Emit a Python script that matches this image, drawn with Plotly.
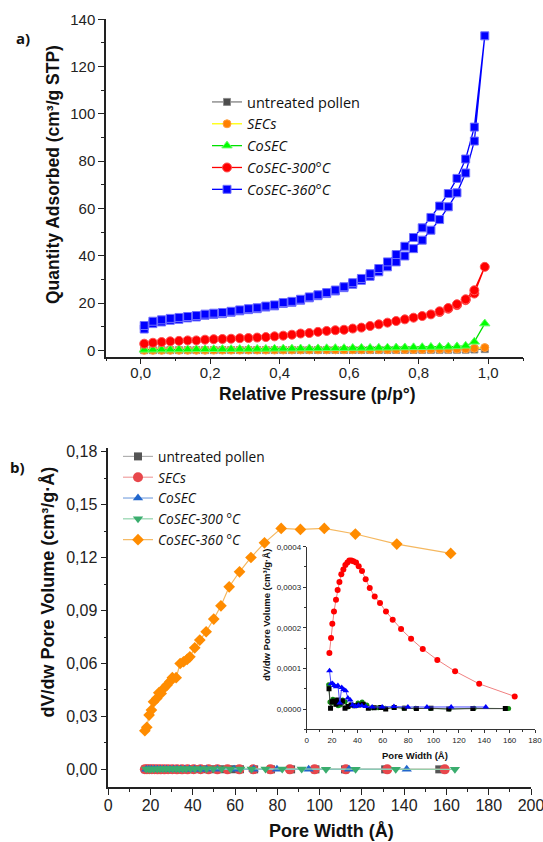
import plotly.graph_objects as go

# ---------------- Panel a) : N2 isotherms ----------------
P_ADS = [0.010, 0.035, 0.060, 0.085, 0.110, 0.135, 0.160, 0.185, 0.210, 0.235,
         0.260, 0.285, 0.310, 0.335, 0.360, 0.385, 0.410, 0.435, 0.460, 0.485,
         0.510, 0.535, 0.560, 0.585, 0.610, 0.635, 0.660, 0.685, 0.710, 0.735,
         0.760, 0.785, 0.810, 0.835, 0.860, 0.885, 0.910, 0.935, 0.960, 0.990]
P_DES = [0.960, 0.935, 0.910, 0.885, 0.860, 0.835, 0.810, 0.785, 0.760, 0.735,
         0.710, 0.685, 0.660, 0.635, 0.610, 0.585, 0.560, 0.535, 0.510, 0.485,
         0.460, 0.435, 0.410, 0.385, 0.360, 0.335, 0.310, 0.285, 0.260, 0.235,
         0.210, 0.185, 0.160, 0.135, 0.110, 0.085, 0.060, 0.035, 0.010]

Q_UNTREATED = [0.05, 0.05, 0.06, 0.06, 0.07, 0.07, 0.08, 0.08, 0.08, 0.09,
               0.09, 0.09, 0.10, 0.10, 0.10, 0.11, 0.11, 0.11, 0.12, 0.12,
               0.12, 0.13, 0.13, 0.13, 0.14, 0.14, 0.15, 0.15, 0.16, 0.16,
               0.17, 0.18, 0.19, 0.20, 0.21, 0.23, 0.25, 0.28, 0.35, 0.50]
Q_SECS = [0.00, 0.02, 0.03, 0.04, 0.05, 0.06, 0.07, 0.08, 0.09, 0.10,
          0.10, 0.11, 0.12, 0.13, 0.13, 0.14, 0.15, 0.16, 0.17, 0.18,
          0.19, 0.20, 0.21, 0.22, 0.23, 0.24, 0.25, 0.27, 0.28, 0.30,
          0.32, 0.34, 0.37, 0.40, 0.43, 0.47, 0.52, 0.60, 0.85, 1.15]
Q_COSEC = [0.20, 0.25, 0.30, 0.30, 0.35, 0.35, 0.40, 0.40, 0.45, 0.50,
           0.50, 0.55, 0.55, 0.60, 0.60, 0.65, 0.70, 0.70, 0.75, 0.80,
           0.80, 0.85, 0.90, 0.90, 0.95, 1.00, 1.00, 1.05, 1.10, 1.15,
           1.20, 1.25, 1.30, 1.40, 1.45, 1.50, 1.65, 1.90, 3.60, 11.3]
Q_300_ADS = [2.8, 3.2, 3.5, 3.8, 4.0, 4.2, 4.2, 4.5, 4.7, 4.8,
             4.9, 5.1, 5.2, 5.4, 5.6, 5.9, 6.2, 6.6, 7.1, 7.3,
             7.8, 8.2, 8.5, 8.7, 9.2, 9.6, 10.3, 11.0, 11.7, 12.4,
             13.1, 13.8, 14.5, 15.2, 16.2, 17.6, 19.1, 21.2, 24.0, 35.3]
P_300_DES = [0.960, 0.935, 0.910, 0.885, 0.860]
Q_300_DES = [25.4, 21.6, 19.5, 17.9, 16.5]
Q_360_ADS = [9.0, 11.3, 12.0, 12.7, 13.1, 13.7, 14.1, 14.8, 15.2, 15.5,
             16.1, 16.7, 17.2, 17.6, 18.3, 18.8, 19.8, 20.3, 21.2, 22.2,
             23.1, 24.0, 25.1, 26.5, 27.9, 29.6, 31.3, 33.2, 35.3, 37.4,
             39.9, 43.0, 46.6, 50.8, 55.3, 60.7, 66.6, 75.0, 88.5, 133.0]
Q_360_DES = [94.4, 80.9, 72.7, 66.3, 61.0, 56.2, 51.8, 47.7, 44.0, 40.5,
             37.4, 34.6, 32.4, 30.4, 28.6, 26.9, 25.5, 24.4, 23.5, 22.6,
             21.6, 20.7, 20.2, 19.2, 18.7, 18.0, 17.6, 17.1, 16.5, 16.0,
             15.7, 15.3, 14.7, 14.3, 13.9, 13.5, 12.9, 12.3, 10.5]

# ---------------- Panel b) : pore size distributions ----------------
W_UN = [17.6, 18.8, 20.1, 21.5, 23.0, 24.6, 26.3, 28.2, 30.2, 32.5, 35.0, 37.8,
        41.0, 44.6, 48.6, 53.2, 58.5, 62.3, 69.0, 77.0, 86.5, 98.0, 112.0, 131.0, 156.6]
V_UN = [0.50e-4, 0.02e-4, 0.18e-4, 0.20e-4, 0.12e-4, 0.22e-4, 0.15e-4, 0.20e-4,
        0.02e-4, 0.06e-4, 0.10e-4, 0.08e-4, 0.10e-4, 0.12e-4, 0.02e-4, 0.03e-4,
        0.04e-4, 0.00, 0.04e-4, 0.02e-4, 0.01e-4, 0.02e-4, 0.00, 0.01e-4, 0.01e-4]
W_SEC = [17.3, 18.3, 19.4, 20.6, 21.9, 23.3, 24.8, 26.5, 28.3, 30.3, 32.5, 34.9, 37.5,
         40.4, 43.7, 47.4, 51.6, 56.4, 62.0, 68.6, 76.7, 85.9, 97.6, 112.4, 132.0, 159.2]
V_SEC = [0.60e-4, 0.17e-4, 0.15e-4, 0.24e-4, 0.22e-4, 0.12e-4, 0.08e-4, 0.10e-4,
         0.22e-4, 0.18e-4, 0.05e-4, 0.10e-4, 0.08e-4, 0.15e-4, 0.17e-4, 0.10e-4,
         0.03e-4, 0.03e-4, 0.02e-4, 0.04e-4, 0.02e-4, 0.02e-4, 0.01e-4, 0.00,
         0.02e-4, 0.01e-4]
W_CO = [18.0, 19.2, 20.4, 21.8, 23.2, 24.6, 26.1, 27.6, 29.2, 30.8, 32.5, 34.3,
        36.2, 38.4, 40.8, 43.5, 46.5, 51.6, 59.5, 68.8, 79.8, 94.8, 113.9, 141.2]
V_CO = [0.94e-4, 0.62e-4, 0.63e-4, 0.58e-4, 0.55e-4, 0.58e-4, 0.15e-4, 0.53e-4,
        0.48e-4, 0.45e-4, 0.27e-4, 0.22e-4, 0.10e-4, 0.06e-4, 0.09e-4, 0.08e-4,
        0.06e-4, 0.05e-4, 0.05e-4, 0.06e-4, 0.05e-4, 0.05e-4, 0.05e-4, 0.05e-4]
W_300 = [17.9, 19.2, 20.2, 21.5, 23.1, 24.4, 25.8, 27.3, 28.9, 30.5, 32.1, 33.6,
         35.2, 36.8, 38.9, 41.0, 43.6, 46.5, 49.7, 53.6, 57.8, 62.5, 67.8, 74.4,
         82.3, 91.5, 103.0, 117.0, 136.0, 164.0]
V_300 = [1.38e-4, 1.75e-4, 2.10e-4, 2.40e-4, 2.69e-4, 2.93e-4, 3.13e-4, 3.32e-4,
         3.44e-4, 3.55e-4, 3.61e-4, 3.66e-4, 3.66e-4, 3.64e-4, 3.61e-4, 3.52e-4,
         3.40e-4, 3.20e-4, 2.98e-4, 2.77e-4, 2.61e-4, 2.40e-4, 2.20e-4, 1.97e-4,
         1.73e-4, 1.48e-4, 1.21e-4, 0.93e-4, 0.62e-4, 0.31e-4]
W_360 = [17.3, 18.2, 19.3, 20.4, 21.4, 22.9, 23.9, 25.0, 26.2, 27.8, 29.1, 30.3,
         32.1, 34.0, 35.6, 37.3, 38.6, 40.9, 43.3, 46.3, 49.9, 53.3, 57.2, 62.1,
         67.5, 73.9, 81.8, 90.9, 102.2, 116.9, 136.5, 162.0]
V_360 = [0.0219, 0.0238, 0.0308, 0.0336, 0.0383, 0.0402, 0.0434, 0.0430, 0.0459,
         0.0478, 0.0497, 0.0520, 0.0520, 0.0600, 0.0610, 0.0623, 0.0638, 0.0689,
         0.0733, 0.0780, 0.0852, 0.0927, 0.1035, 0.1120, 0.1201, 0.1284, 0.1366,
         0.1360, 0.1366, 0.1334, 0.1277, 0.1224]

LEG_FONT = "Open Sans"
TICK_FONT = "Liberation Sans, Arial, sans-serif"

fig = go.Figure()

# ---- panel a traces ----
def iso(name, x, y, color, line_color, symbol, size, edge):
    fig.add_trace(go.Scatter(
        x=x, y=y, name=name, mode="lines+markers", xaxis="x", yaxis="y",
        line=dict(color=line_color, width=1.3),
        marker=dict(symbol=symbol, size=size, color=color, line=dict(color=edge, width=1)),
        legend="legend"))

iso("untreated pollen", P_ADS, Q_UNTREATED, "#4d4d4d", "#808080", "square", 7, "#8c8c8c")
iso("<i>SECs</i>", P_ADS, Q_SECS, "#ff8000", "#ffff00", "circle", 8, "#ffa040")
iso("<i>CoSEC</i>", P_ADS, Q_COSEC, "#00ff00", "#00e000", "triangle-up", 9, "#60ff60")
iso("<i>CoSEC-300°C</i>", P_ADS + P_300_DES, Q_300_ADS + Q_300_DES,
    "#ff0000", "#ff0000", "circle", 9, "#ff5050")
iso("<i>CoSEC-360°C</i>", P_ADS + P_DES, Q_360_ADS + Q_360_DES,
    "#0000ff", "#0000ff", "square", 8, "#7070ff")

# ---- panel b main traces ----
def psd(name, x, y, color, line_color, symbol, size):
    fig.add_trace(go.Scatter(
        x=x, y=y, name=name, mode="lines+markers", xaxis="x2", yaxis="y2",
        line=dict(color=line_color, width=1.2),
        marker=dict(symbol=symbol, size=size, color=color, line=dict(width=0)),
        legend="legend2"))

psd("untreated pollen", W_UN, V_UN, "#555555", "#b0b0b0", "square", 8)
psd("<i>SECs</i>", W_SEC, V_SEC, "#e8474c", "#f0a0a0", "circle", 10)
psd("<i>CoSEC</i>", W_CO, V_CO, "#2166cc", "#7fa6e0", "triangle-up", 9)
psd("<i>CoSEC-300 °C</i>", W_300, V_300, "#3aad6e", "#8fd3ab", "triangle-down", 9)
psd("<i>CoSEC-360 °C</i>", W_360, V_360, "#ff8c00", "#f5b860", "diamond", 9)

# ---- inset traces ----
def ins(x, y, color, line_color, symbol, size):
    fig.add_trace(go.Scatter(
        x=x, y=y, mode="lines+markers", xaxis="x3", yaxis="y3", showlegend=False,
        line=dict(color=line_color, width=1),
        marker=dict(symbol=symbol, size=size, color=color, line=dict(width=0))))

ins(W_SEC, V_SEC, "#138a13", "#5aa55a", "circle", 5)
ins(W_UN, V_UN, "#000000", "#404040", "square", 5)
ins(W_CO, V_CO, "#0000ff", "#4a4aff", "triangle-up", 6)
ins(W_300, V_300, "#ff0000", "#f08080", "circle", 6)

W, H = 543, 842
def px(x): return x / W
def py(y): return 1 - y / H

axis_common = dict(showline=True, linecolor="#222222", linewidth=1.5, ticks="outside",
                   ticklen=6, tickwidth=1.3, tickcolor="#222222", showgrid=False,
                   zeroline=False, mirror=False, automargin=False, ticklabeloverflow="allow")
inset_common = dict(showline=True, linecolor="#333333", linewidth=1, ticks="outside",
                    ticklen=3, tickcolor="#333333", showgrid=False, zeroline=False,
                    automargin=False, tickfont=dict(size=8), ticklabeloverflow="allow")

fig.update_layout(
    width=W, height=H, margin=dict(l=0, r=0, t=0, b=0, autoexpand=False),
    paper_bgcolor="white", plot_bgcolor="rgba(0,0,0,0)",
    separators=",.",
    font=dict(family=TICK_FONT, color="#222222"),
    xaxis=dict(domain=[px(106), px(523)], range=[-0.1, 1.1], dtick=0.2, tick0=0,
               tickformat=".1f", anchor="y", tickfont=dict(size=15), ticklabelstandoff=-4,
               minor=dict(dtick=0.1, ticks="outside", ticklen=3, tickcolor="#222222"),
               **axis_common),
    yaxis=dict(domain=[py(356.7), py(19.3)], range=[-2.7, 140], dtick=20,
               anchor="x", tickfont=dict(size=15),
               minor=dict(dtick=10, ticks="outside", ticklen=3, tickcolor="#222222"),
               **axis_common),
    xaxis2=dict(domain=[px(108.3), px(531)], range=[0, 200], dtick=20,
                anchor="y2", tickfont=dict(size=16), ticklabelstandoff=-3,
                minor=dict(dtick=10, ticks="outside", ticklen=3, tickcolor="#222222"),
                **axis_common),
    yaxis2=dict(domain=[py(787), py(448.3)], range=[-0.01, 0.182], dtick=0.03, tick0=0,
                tickformat=".2f", anchor="x2", tickfont=dict(size=16),
                minor=dict(dtick=0.015, ticks="outside", ticklen=3, tickcolor="#222222"),
                **axis_common),
    xaxis3=dict(domain=[px(306.7), px(535)], range=[0, 180], dtick=20, anchor="y3",
                minor=dict(dtick=10, ticks="outside", ticklen=2, tickcolor="#333333"),
                **inset_common),
    yaxis3=dict(domain=[py(729.3), py(546.7)], range=[-0.00005, 0.0004], dtick=0.0001,
                tick0=0, tickformat=".4f", anchor="x3",
                minor=dict(dtick=0.00005, ticks="outside", ticklen=2, tickcolor="#333333"),
                **inset_common),
    legend=dict(x=px(207), y=py(86), xanchor="left", yanchor="top",
                bgcolor="rgba(0,0,0,0)", font=dict(family=LEG_FONT, size=14.5, color="#111111"),
                itemclick=False, tracegroupgap=0),
    legend2=dict(x=px(118), y=py(441), xanchor="left", yanchor="top",
                 bgcolor="rgba(0,0,0,0)", font=dict(family=LEG_FONT, size=13.7, color="#111111"),
                 itemclick=False, tracegroupgap=0),
    showlegend=True,
)

bold = "Liberation Sans, Arial, sans-serif"
ann = [
    dict(text="<b>a)</b>", x=px(23), y=py(38), font=dict(size=15, family="Open Sans")),
    dict(text="<b>b)</b>", x=px(17), y=py(467), font=dict(size=15, family="Open Sans")),
    dict(text="<b>Quantity Adsorbed (cm³/g STP)</b>", x=px(53), y=py(175), textangle=-90,
         font=dict(size=17.5, family=bold)),
    dict(text="<b>Relative Pressure (p/p°)</b>", x=px(317), y=py(394),
         font=dict(size=17.5, family=bold)),
    dict(text="<b>dV/dw Pore Volume (cm³/g·Å)</b>", x=px(47), y=py(592.5), textangle=-90,
         font=dict(size=18, family=bold)),
    dict(text="<b>Pore Width (Å)</b>", x=px(331), y=py(830.5),
         font=dict(size=18, family=bold)),
    dict(text="<b>dV/dw Pore Volume (cm³/g·Å)</b>", x=px(266), y=py(615), textangle=-90,
         font=dict(size=9.5, family=bold)),
    dict(text="<b>Pore Width (Å)</b>", x=px(415), y=py(755),
         font=dict(size=9.5, family=bold)),
]
for a in ann:
    a.update(xref="paper", yref="paper", showarrow=False, xanchor="center", yanchor="middle")
    a["font"]["color"] = "#111111"
fig.update_layout(annotations=ann)

fig.write_html("out.html")
